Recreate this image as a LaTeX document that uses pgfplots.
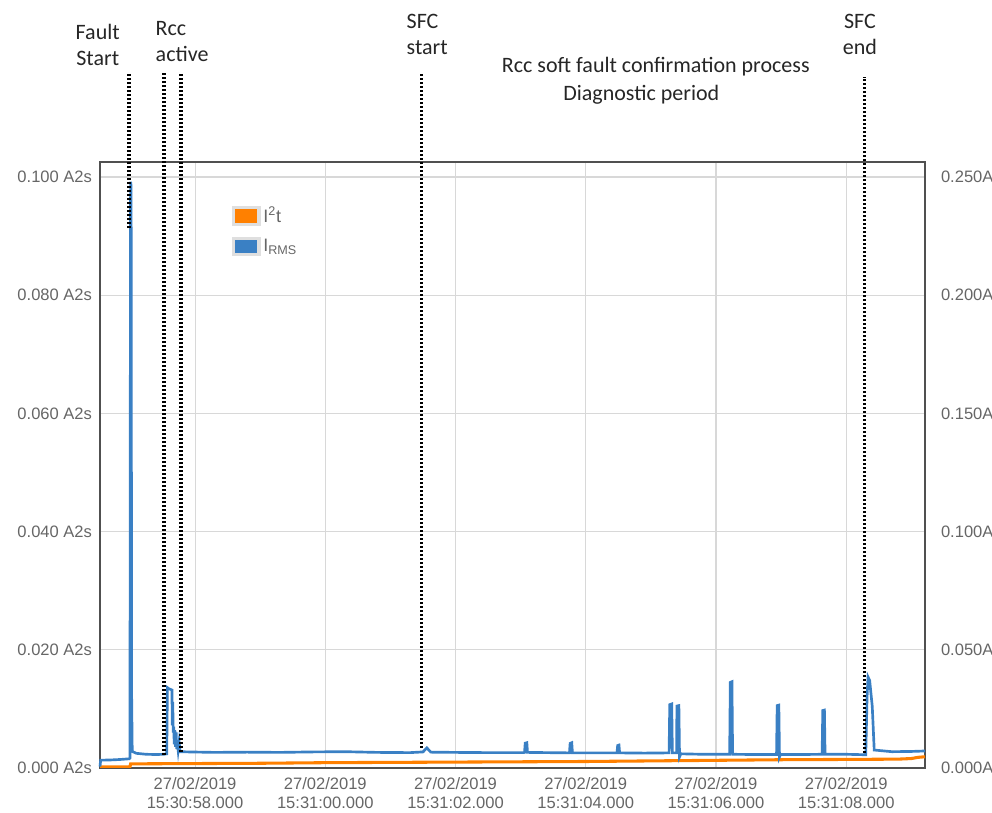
\documentclass[border=0pt]{standalone}
\usepackage{pgfplots}
\pgfplotsset{compat=1.18}
\usepackage{fontspec}
\setmainfont{Liberation Sans}
\newfontfamily\annfont{Carlito}
\definecolor{ornge}{HTML}{FF8000}
\definecolor{blu}{HTML}{3A80C4}
\definecolor{framec}{HTML}{505050}
\definecolor{tickgray}{HTML}{666666}
\definecolor{gridgray}{HTML}{D8D8D8}
\begin{document}
\begin{tikzpicture}
\useasboundingbox (0,0) rectangle (744pt,609.75pt);
\begin{axis}[
 at={(75pt,33.75pt)}, anchor=south west,
 scale only axis, width=618.75pt, height=454.5pt,
 xmin=56.54, xmax=69.21, ymin=0, ymax=0.10254,
 xtick={58,60,62,64,66,68},
 xticklabels={{27/02/2019\\15:30:58.000},{27/02/2019\\15:31:00.000},{27/02/2019\\15:31:02.000},{27/02/2019\\15:31:04.000},{27/02/2019\\15:31:06.000},{27/02/2019\\15:31:08.000}},
 ytick={0,0.02,0.04,0.06,0.08,0.1},
 yticklabels={0.000 A2s,0.020 A2s,0.040 A2s,0.060 A2s,0.080 A2s,0.100 A2s},
 grid=major, grid style={gridgray, line width=0.8pt},
 major tick length=0pt,
 axis line style={framec, line width=2.2pt},
 tick label style={font=\fontsize{12.4}{14}\selectfont, text=tickgray},
 xticklabel style={align=center, yshift=-3.5pt},
 yticklabel style={xshift=-2.5pt},
 legend style={at={(0.155,0.935)}, anchor=north west, draw=none, fill=none,
   font=\fontsize{13.5}{15}\selectfont, text=tickgray, row sep=7pt},
 legend cell align=left,
]
\addplot[ornge, line width=2.3pt, legend image code/.code={\draw[fill=ornge,draw=gray!25,line width=2.4pt] (0pt,-6.2pt) rectangle (19pt,6.2pt);}] coordinates {
(56.54,0.0002)(57.0,0.0002)(57.01,0.0007)(58,0.00075)(59,0.0008)(60,0.0009)(61,0.00095)(62,0.0010)(63,0.00105)(64,0.0011)(65,0.0012)(66,0.0013)(67,0.0014)(68,0.00145)(68.8,0.0015)(69.0,0.0016)(69.1,0.0018)(69.21,0.0019)
};
\addlegendentry{I\textsuperscript{2}t}
\addlegendimage{legend image code/.code={\draw[fill=blu,draw=gray!25,line width=2.4pt] (0pt,-6.2pt) rectangle (19pt,6.2pt);}}
\addlegendentry{I\textsubscript{RMS}}
\end{axis}
\begin{axis}[
 at={(75pt,33.75pt)}, anchor=south west,
 scale only axis, width=618.75pt, height=454.5pt,
 xmin=56.54, xmax=69.21, ymin=0, ymax=0.25635,
 hide x axis, axis y line*=right,
 y axis line style={draw=none},
 ytick={0,0.05,0.1,0.15,0.2,0.25},
 yticklabels={0.000A,0.050A,0.100A,0.150A,0.200A,0.250A},
 major tick length=0pt,
 tick label style={font=\fontsize{12.4}{14}\selectfont, text=tickgray},
 yticklabel style={xshift=8.5pt},
 clip=false,
]
\addplot[blu, line width=2pt] coordinates {
(56.54,0.0006)(56.55,0.0033)(56.70,0.0034)(56.85,0.0036)(56.99,0.0039)(57.00,0.0042)
(57.005,0.1500)(57.010,0.2480)(57.018,0.2460)(57.026,0.0300)(57.035,0.0070)
(57.10,0.0062)(57.25,0.0058)(57.40,0.0057)(57.52,0.0058)(57.565,0.0060)
(57.575,0.0340)(57.60,0.0335)(57.645,0.0330)(57.650,0.0180)(57.657,0.0280)(57.665,0.0150)(57.673,0.0175)
(57.68,0.0100)(57.69,0.0160)(57.70,0.0090)(57.71,0.0150)(57.718,0.0080)(57.724,0.0118)(57.74,0.0075)(57.755,0.0110)(57.770,0.0069)
(57.9,0.0068)(58.3,0.0066)(58.8,0.0067)(59.3,0.0066)(59.8,0.0068)(60.3,0.0069)(60.8,0.0066)(61.3,0.0065)
(61.5,0.0068)(61.56,0.0085)(61.62,0.0067)(62.0,0.0066)(62.5,0.0065)(63.05,0.0065)
(63.06,0.0066)(63.07,0.0105)(63.095,0.0107)(63.105,0.0066)
(63.4,0.0065)(63.75,0.0064)(63.76,0.0104)(63.785,0.0107)(63.795,0.0064)
(64.1,0.0064)(64.48,0.0064)(64.49,0.0095)(64.51,0.0097)(64.52,0.0064)
(64.9,0.0063)(65.28,0.0064)(65.29,0.0268)(65.32,0.0271)(65.33,0.0064)(65.395,0.0064)(65.40,0.0262)(65.43,0.0264)(65.44,0.0047)(65.46,0.0060)
(65.8,0.0058)(66.21,0.0058)(66.22,0.0362)(66.245,0.0365)(66.255,0.0058)
(66.6,0.0057)(66.93,0.0057)(66.94,0.0264)(66.965,0.0266)(66.975,0.0047)(66.99,0.0057)
(67.3,0.0057)(67.63,0.0058)(67.64,0.0243)(67.665,0.0245)(67.675,0.0058)
(68.0,0.0058)(68.30,0.0056)(68.32,0.0300)(68.335,0.0385)(68.36,0.0370)(68.40,0.0260)(68.43,0.0076)
(68.7,0.0069)(69.0,0.0070)(69.21,0.0072)
};
\begin{scope}[black, line width=2.4pt, dash pattern=on 1.7pt off 1.3pt]
\draw (axis cs:56.986,0.2284) -- (axis cs:56.986,0.2940);
\draw (axis cs:57.524,0.0055) -- (axis cs:57.524,0.2940);
\draw (axis cs:57.785,0.0068) -- (axis cs:57.785,0.2940);
\draw (axis cs:61.472,0.0085) -- (axis cs:61.472,0.2940);
\draw (axis cs:68.276,0.0063) -- (axis cs:68.276,0.2923);
\end{scope}
\end{axis}
\begin{scope}[font=\annfont\fontsize{16.5}{19.5}\selectfont, text={black!85}]
\node[align=center] at (73.3pt,576pt) {Fault\\Start};
\node[align=left, anchor=west] at (113.25pt,578.25pt) {Rcc\\active};
\node[align=left, anchor=west] at (301.5pt,584.25pt) {SFC\\start};
\node at (491.85pt,559.5pt) {Rcc soft fault confirmation process};
\node at (481pt,538.5pt) {Diagnostic period};
\node[align=center] at (645pt,584.25pt) {SFC\\end};
\end{scope}
\end{tikzpicture}
\end{document}
